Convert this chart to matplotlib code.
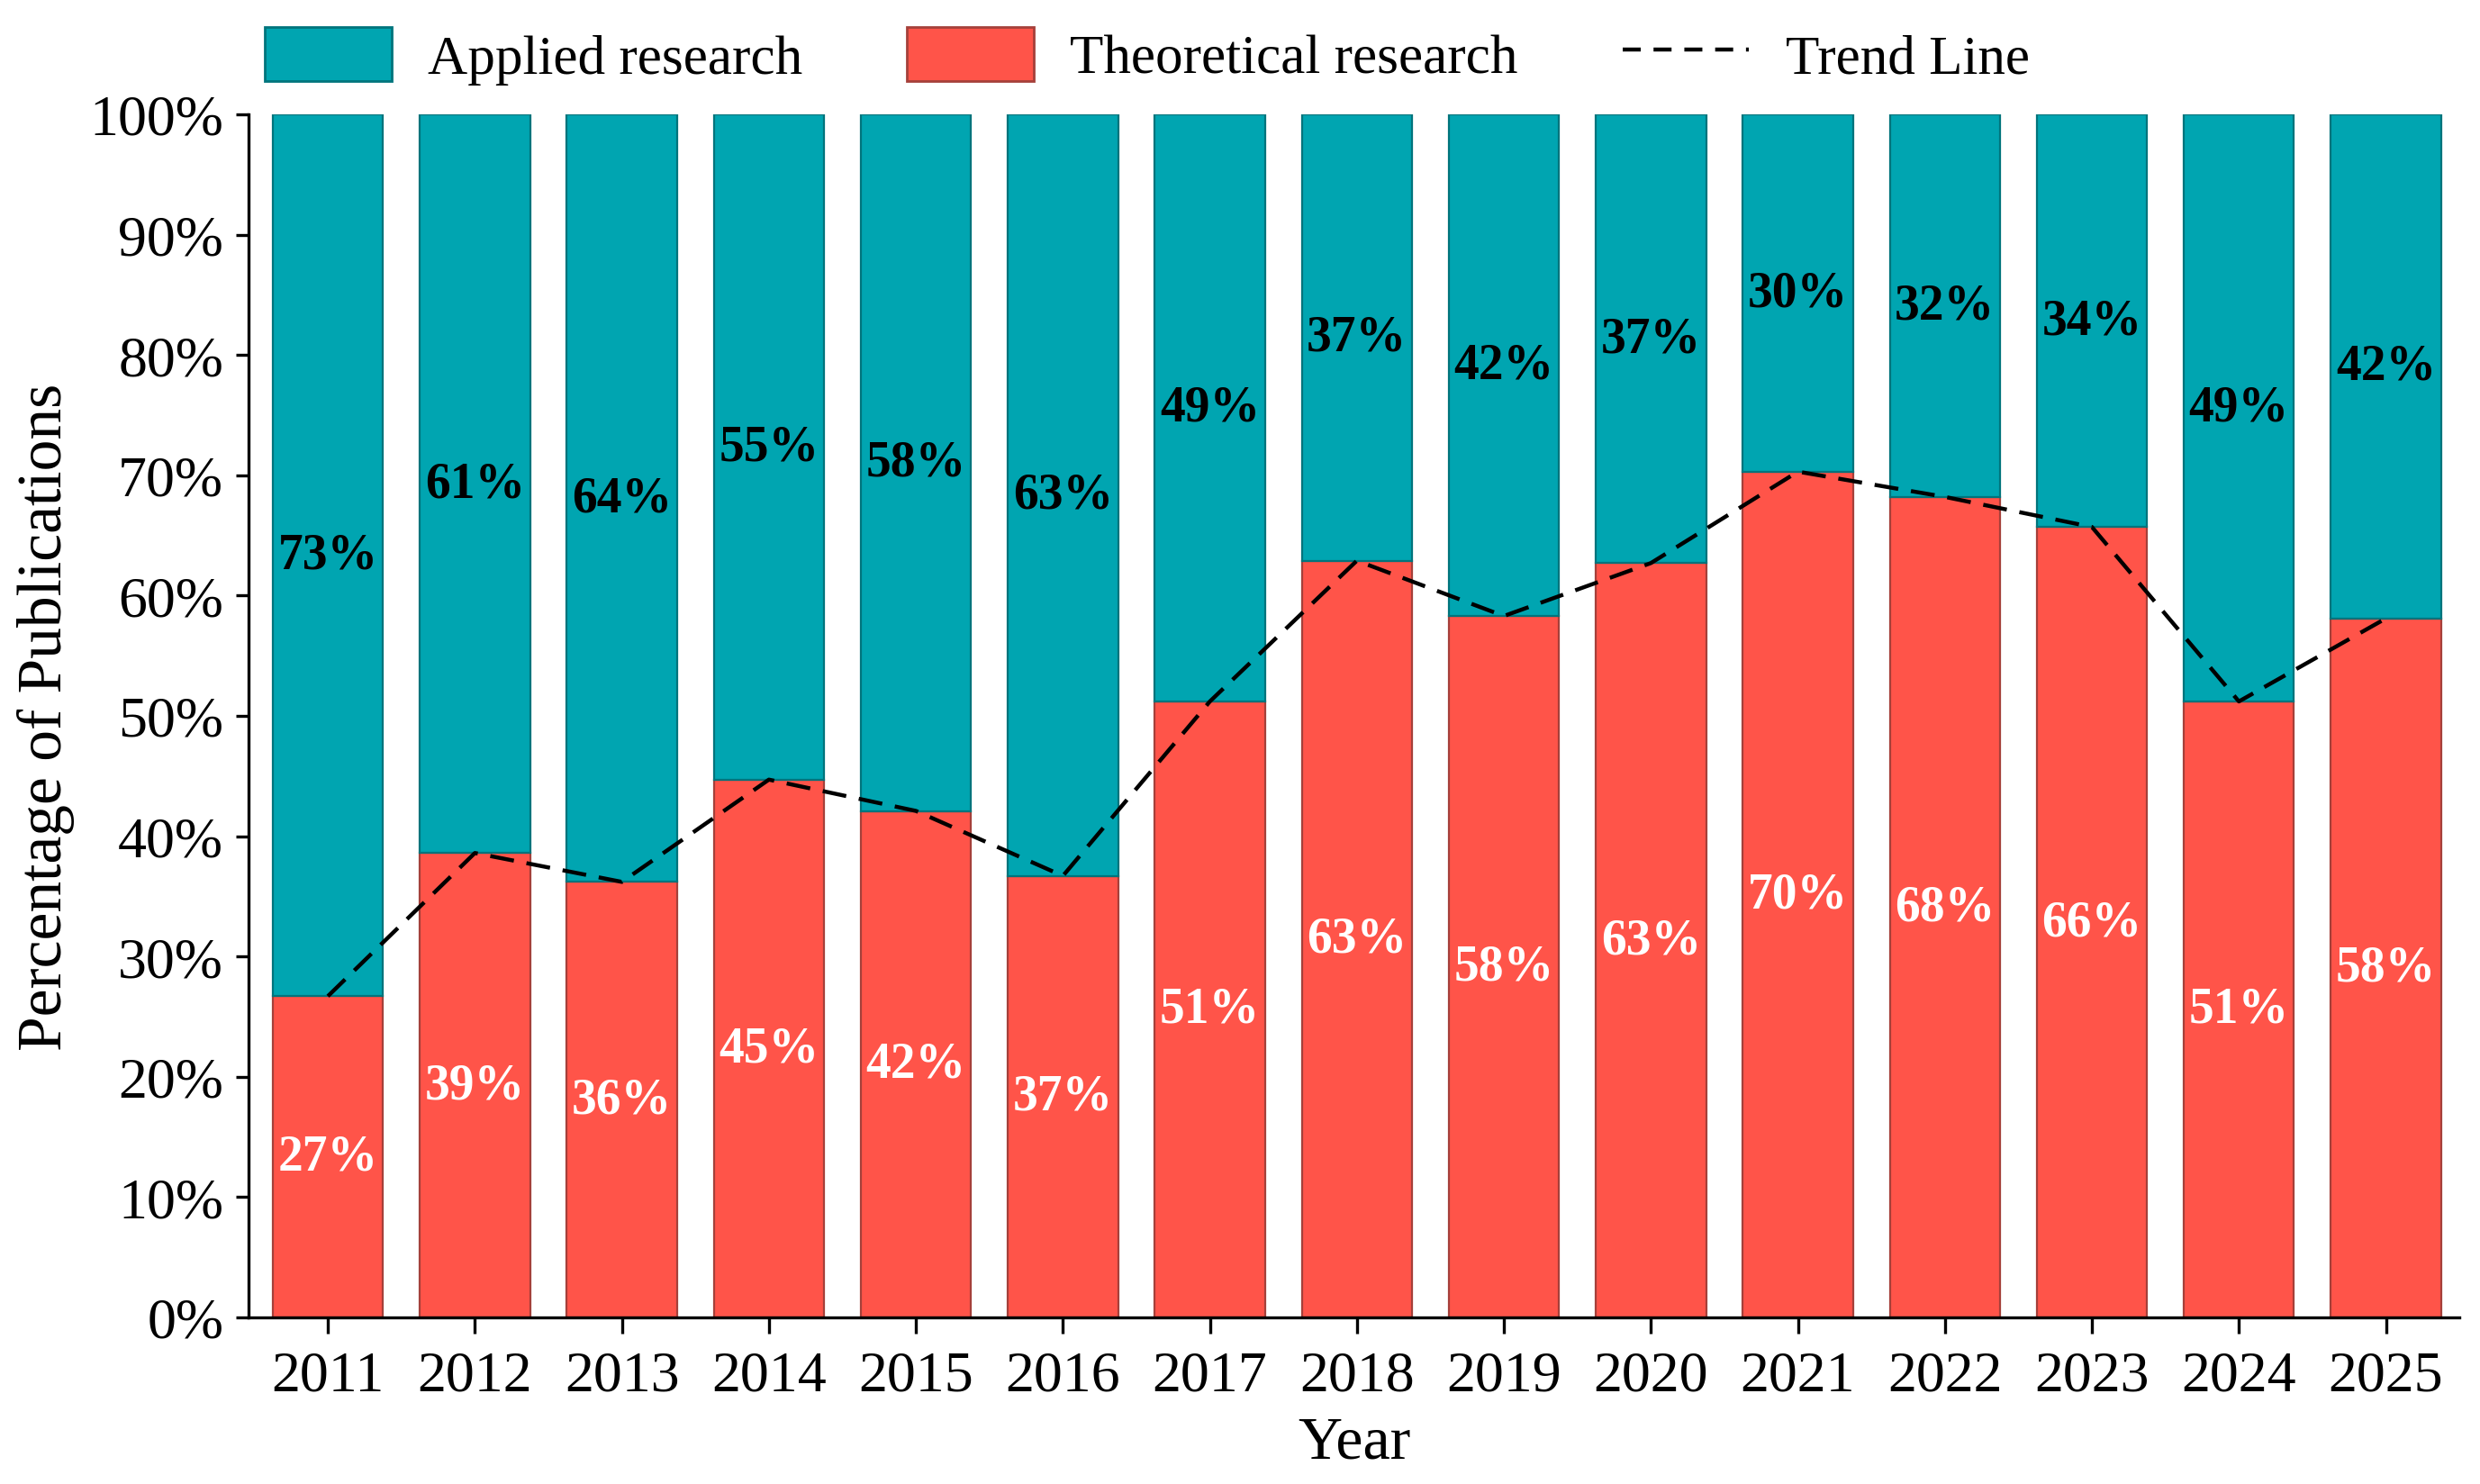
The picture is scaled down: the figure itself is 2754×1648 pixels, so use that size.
import numpy as np
import matplotlib.pyplot as plt
from matplotlib.patches import Patch
from matplotlib.lines import Line2D

plt.rcParams['font.family'] = ['Liberation Serif', 'DejaVu Serif']

years = ['2011', '2012', '2013', '2014', '2015', '2016', '2017', '2018',
         '2019', '2020', '2021', '2022', '2023', '2024', '2025']
# share of theoretical research (%)
theoretical = [26.7, 38.6, 36.2, 44.7, 42.1, 36.7, 51.2, 62.9,
               58.3, 62.7, 70.3, 68.2, 65.7, 51.2, 58.1]
applied = [100 - v for v in theoretical]

teal = '#00A5B1'
red = '#FF5449'
dash = (0, (6, 3.2))

fig, ax = plt.subplots(figsize=(13.77, 8.245), dpi=200)
plt.subplots_adjust(left=0.1002, right=0.9917, top=0.9224, bottom=0.1122)

x = np.arange(len(years))
w = 0.75
ax.bar(x, theoretical, w, color=red, edgecolor='#A5403A', linewidth=0.8)
ax.bar(x, applied, w, bottom=theoretical, color=teal, edgecolor='#00747C', linewidth=0.8)
ax.plot(x, theoretical, color='black', linestyle=dash, linewidth=1.6)

for i in range(len(years)):
    ax.text(x[i], theoretical[i] / 2, f"{round(theoretical[i])}%", ha='center', va='center',
            color='white', fontsize=20, fontweight='bold')
    ax.text(x[i], theoretical[i] + applied[i] / 2, f"{round(applied[i])}%", ha='center', va='center',
            color='black', fontsize=20, fontweight='bold')

ax.set_xlim(-0.54, 14.5)
ax.set_ylim(0, 100)
ax.set_xticks(x)
ax.set_xticklabels(years)
ax.set_yticks(np.arange(0, 101, 10))
ax.set_yticklabels([f"{v}%" for v in range(0, 101, 10)])
ax.tick_params(axis='both', labelsize=23, width=1.2)
ax.tick_params(axis='x', length=6.3, pad=7)
ax.tick_params(axis='y', length=5, pad=5)
for s in ['top', 'right']:
    ax.spines[s].set_visible(False)
for s in ['left', 'bottom']:
    ax.spines[s].set_linewidth(1.2)

ax.set_xlabel('Year', fontsize=24.5, labelpad=5)
ax.set_ylabel('Percentage of Publications', fontsize=25, labelpad=6)

handles = [Patch(facecolor=teal, edgecolor='#00747C', label='Applied research'),
           Patch(facecolor=red, edgecolor='#A5403A', label='Theoretical research'),
           Line2D([], [], color='black', linestyle=(0, (4.5, 3.2)), linewidth=1.6, label='Trend Line')]
fig.legend(handles=handles, loc='center left', bbox_to_anchor=(0.098, 0.962), ncol=3,
           frameon=False, fontsize=22, handlelength=2.3, handleheight=1.15,
           handletextpad=0.66, columnspacing=1.9, borderaxespad=0)

plt.savefig('out.png', dpi=200)
